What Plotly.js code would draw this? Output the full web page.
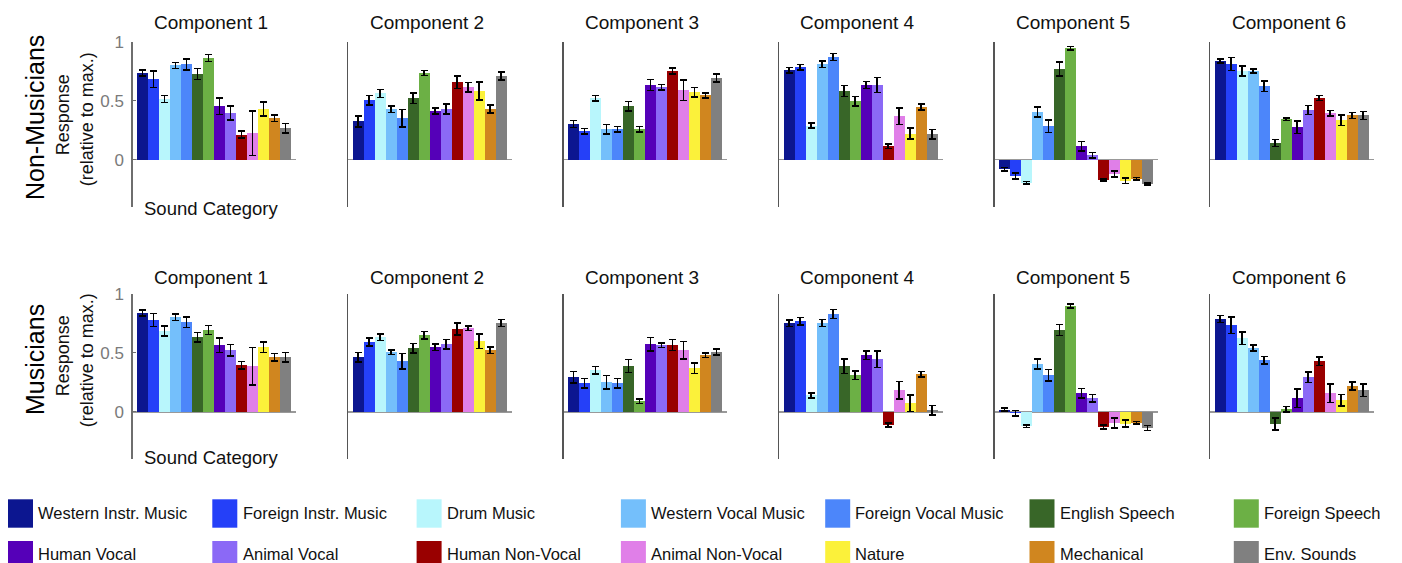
<!DOCTYPE html>
<html>
<head>
<meta charset="utf-8">
<script src="https://cdn.plot.ly/plotly-3.0.1.min.js"></script>
<style>html,body{margin:0;padding:0;background:#fff;}#chart{width:1402px;height:563px;}</style>
</head>
<body>
<div id="chart"></div>
<script>
// ---------- DATA ----------
const categories = ["Western Instr. Music","Foreign Instr. Music","Drum Music","Western Vocal Music","Foreign Vocal Music","English Speech","Foreign Speech","Human Vocal","Animal Vocal","Human Non-Vocal","Animal Non-Vocal","Nature","Mechanical","Env. Sounds"];
const colors = ["#0c1690","#2540f8","#b8f6fc","#74bffb","#4c86fa","#386628","#6cb045","#5500b8","#8b69f6","#990000","#e07fe8","#fbf13a","#d0861f","#808080"];
const componentTitles = ["Component 1","Component 2","Component 3","Component 4","Component 5","Component 6"];
const groupLabels = ["Non-Musicians","Musicians"];

// Non-musicians
const nm1 = [0.734,0.683,0.513,0.799,0.807,0.725,0.861,0.453,0.394,0.212,0.224,0.428,0.351,0.266];
const nm1Err = [0.025,0.07,0.03,0.025,0.048,0.047,0.03,0.07,0.06,0.03,0.19,0.06,0.028,0.04];
const nm2 = [0.323,0.504,0.561,0.428,0.351,0.521,0.734,0.411,0.428,0.657,0.612,0.581,0.428,0.708];
const nm2Err = [0.047,0.04,0.034,0.027,0.075,0.044,0.021,0.025,0.042,0.054,0.04,0.075,0.033,0.033];
const nm3 = [0.300,0.241,0.521,0.258,0.258,0.453,0.258,0.632,0.615,0.751,0.589,0.572,0.544,0.691];
const nm3Err = [0.03,0.023,0.023,0.04,0.024,0.04,0.023,0.047,0.023,0.025,0.088,0.04,0.02,0.033];
const nm4 = [0.759,0.785,0.289,0.810,0.870,0.581,0.496,0.632,0.632,0.113,0.368,0.221,0.445,0.215];
const nm4Err = [0.024,0.023,0.021,0.027,0.03,0.048,0.04,0.031,0.064,0.021,0.07,0.045,0.025,0.04];
const nm5 = [-0.082,-0.139,-0.198,0.402,0.283,0.768,0.946,0.113,0.037,-0.173,-0.122,-0.181,-0.164,-0.207];
const nm5Err = [0.014,0.024,0.01,0.042,0.054,0.058,0.015,0.04,0.025,0.01,0.025,0.024,0.011,0.01];
const nm6 = [0.836,0.810,0.751,0.751,0.623,0.139,0.343,0.275,0.419,0.521,0.394,0.334,0.374,0.374];
const nm6Err = [0.018,0.054,0.044,0.018,0.045,0.03,0.011,0.052,0.038,0.021,0.024,0.044,0.027,0.034];

// Musicians
const mu1 = [0.836,0.777,0.684,0.802,0.760,0.633,0.692,0.565,0.523,0.395,0.387,0.548,0.463,0.463];
const mu1Err = [0.025,0.055,0.042,0.027,0.044,0.041,0.038,0.061,0.048,0.032,0.16,0.044,0.03,0.04];
const mu2 = [0.463,0.590,0.633,0.506,0.429,0.540,0.650,0.548,0.573,0.701,0.709,0.599,0.523,0.751];
const mu2Err = [0.041,0.034,0.028,0.018,0.064,0.04,0.031,0.027,0.04,0.051,0.02,0.061,0.028,0.03];
const mu3 = [0.294,0.243,0.353,0.251,0.243,0.387,0.090,0.573,0.565,0.565,0.523,0.370,0.480,0.506];
const mu3Err = [0.049,0.042,0.031,0.056,0.041,0.055,0.018,0.056,0.02,0.047,0.073,0.045,0.02,0.025];
const mu4 = [0.751,0.768,0.141,0.751,0.828,0.387,0.311,0.480,0.446,-0.110,0.184,0.073,0.319,0.014];
const mu4Err = [0.028,0.032,0.021,0.03,0.037,0.06,0.035,0.037,0.07,0.015,0.073,0.07,0.025,0.04];
const mu5 = [0.020,-0.011,-0.119,0.404,0.311,0.692,0.895,0.158,0.116,-0.127,-0.093,-0.099,-0.090,-0.136];
const mu5Err = [0.013,0.022,0.011,0.042,0.05,0.047,0.017,0.04,0.03,0.016,0.042,0.03,0.01,0.02];
const mu6 = [0.785,0.734,0.624,0.540,0.438,-0.102,0.023,0.116,0.294,0.429,0.158,0.099,0.218,0.184];
const mu6Err = [0.03,0.07,0.052,0.025,0.031,0.052,0.023,0.08,0.045,0.037,0.078,0.049,0.034,0.052];

const yTickVals = [0, 0.5, 1];
const yTickText = ["0", "0.5", "1"];

// ---------- BUILD ----------
const W = 1402, H = 563;
const FONT = "Liberation Sans, Arial, Helvetica, sans-serif";
const panels = [
  [nm1,nm1Err],[nm2,nm2Err],[nm3,nm3Err],[nm4,nm4Err],[nm5,nm5Err],[nm6,nm6Err],
  [mu1,mu1Err],[mu2,mu2Err],[mu3,mu3Err],[mu4,mu4Err],[mu5,mu5Err],[mu6,mu6Err]
];
const idx = categories.map((_, i) => i);

const px = v => v / W;
const py = v => (H - v) / H;

const axLeft0 = 132.7, axStep = 215.5, axWidth = 163.5;
const rowTop = [41.7, 293.7];    // pixel y of value 1
const rowBot = [206.7, 459.3];   // pixel y of value -0.4

const traces = [];
const layout = {
  width: W, height: H,
  margin: {l:0, r:0, t:0, b:0, pad:0},
  paper_bgcolor: "#ffffff", plot_bgcolor: "rgba(0,0,0,0)",
  showlegend: false,
  bargap: 0,
  font: {family: FONT, color: "#000"},
  annotations: [], shapes: []
};

panels.forEach((p, i) => {
  const row = Math.floor(i / 6), col = i % 6;
  const sfx = i === 0 ? "" : String(i + 1);
  traces.push({
    type: "bar",
    x: idx, y: p[0],
    xaxis: "x" + sfx, yaxis: "y" + sfx,
    width: 1,
    marker: {color: colors, line: {width: 0}},
    error_y: {type: "data", array: p[1], visible: true, color: "#000", thickness: 1.5, width: 3.5},
    hoverinfo: "skip"
  });
  const x0 = axLeft0 + col * axStep;
  layout["xaxis" + sfx] = {
    domain: [px(x0), px(x0 + axWidth)],
    range: [-0.9, 13.95],
    showticklabels: false, showgrid: false, zeroline: false, showline: false, ticks: "",
    anchor: "y" + sfx, fixedrange: true
  };
  const first = col === 0;
  layout["yaxis" + sfx] = {
    domain: [py(rowBot[row]), py(rowTop[row])],
    range: [-0.4, 1],
    anchor: "x" + sfx,
    showgrid: false,
    zeroline: true, zerolinecolor: "#999999", zerolinewidth: 1.5,
    showline: true, linecolor: first ? "#6e6e6e" : "#555555", linewidth: 1.3,
    showticklabels: first,
    tickvals: first ? yTickVals : [],
    ticktext: first ? yTickText : [],
    ticks: first ? "inside" : "", ticklen: 3, tickcolor: "#6e6e6e",
    tickfont: {size: 17, color: "#7a7a7a", family: FONT},
    ticklabelstandoff: 4,
    fixedrange: true
  };
  // component title
  layout.annotations.push({
    xref: "paper", yref: "paper",
    x: px(x0 + axWidth / 2 - 3), y: py(row === 0 ? 23 : 277.7),
    xanchor: "center", yanchor: "middle",
    text: componentTitles[col], showarrow: false,
    font: {size: 19, color: "#111", family: FONT}
  });
});

// row labels
[0, 1].forEach(row => {
  const cY = row === 0 ? 118 : 360;
  layout.annotations.push({
    xref: "paper", yref: "paper", x: px(35), y: py(cY),
    xanchor: "center", yanchor: "middle", textangle: -90,
    text: groupLabels[row], showarrow: false,
    font: {size: 25, color: "#000", family: FONT}
  });
  layout.annotations.push({
    xref: "paper", yref: "paper", x: px(63.3), y: py(row === 0 ? 115 : 356),
    xanchor: "center", yanchor: "middle", textangle: -90,
    text: "Response", showarrow: false,
    font: {size: 18, color: "#111", family: FONT}
  });
  layout.annotations.push({
    xref: "paper", yref: "paper", x: px(87.3), y: py(row === 0 ? 119 : 360),
    xanchor: "center", yanchor: "middle", textangle: -90,
    text: "(relative to max.)", showarrow: false,
    font: {size: 18, color: "#111", family: FONT}
  });
  layout.annotations.push({
    xref: "paper", yref: "paper", x: px(211), y: py(row === 0 ? 208 : 457.3),
    xanchor: "center", yanchor: "middle",
    text: "Sound Category", showarrow: false,
    font: {size: 18.5, color: "#111", family: FONT}
  });
});

// legend grid (7 columns x 2 rows)
categories.forEach((name, k) => {
  const r = Math.floor(k / 7), c = k % 7;
  const sx = 8 + c * 204.3;
  const sy = r === 0 ? 499.3 : 541;
  layout.shapes.push({
    type: "rect", xref: "paper", yref: "paper",
    x0: px(sx), x1: px(sx + 25), y0: py(sy + 28.4), y1: py(sy),
    fillcolor: colors[k], line: {width: 0}
  });
  layout.annotations.push({
    xref: "paper", yref: "paper", x: px(sx + 28.2), y: py(r === 0 ? 512.7 : 553.8),
    xanchor: "left", yanchor: "middle",
    text: name, showarrow: false,
    font: {size: 16.5, color: "#111", family: FONT}
  });
});

Plotly.newPlot("chart", traces, layout, {staticPlot: true, displayModeBar: false});
</script>
</body>
</html>
